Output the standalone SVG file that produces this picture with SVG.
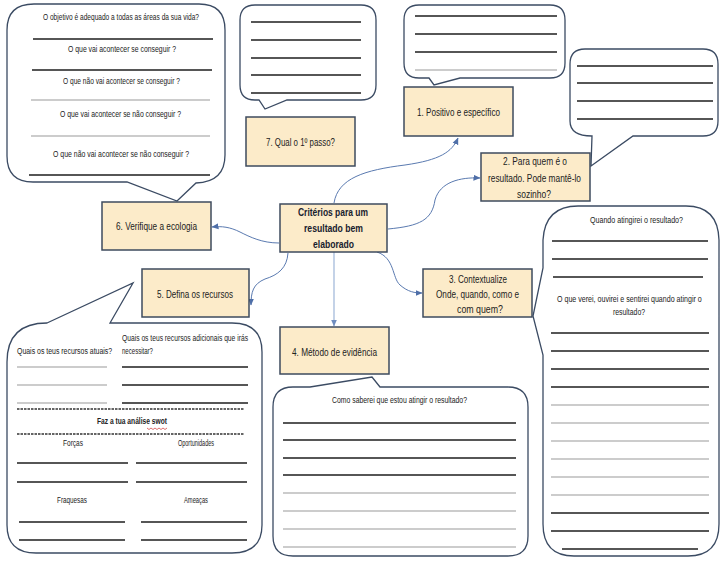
<svg xmlns="http://www.w3.org/2000/svg" width="724" height="564" viewBox="0 0 724 564">
<defs>
<marker id="arr" markerUnits="userSpaceOnUse" markerWidth="7" markerHeight="7" refX="6.5" refY="3.5" orient="auto">
<path d="M0,0.5 L7,3.5 L0,6.5 z" fill="#4F6FA8"/>
</marker>
<marker id="arrL" markerUnits="userSpaceOnUse" markerWidth="7" markerHeight="7" refX="6.5" refY="3.5" orient="auto">
<path d="M0,0.5 L7,3.5 L0,6.5 z" fill="#6F8DBF"/>
</marker>
</defs>
<style>
.box{fill:#FCEBC9;stroke:#3E4B5E;stroke-width:1.5}
.call{fill:#FFFFFF;stroke:#3B4B63;stroke-width:1.3}
.t{font-family:"Liberation Sans Narrow","Liberation Sans",Arial,sans-serif;font-size:9px;fill:#222}
.bt{font-family:"Liberation Sans Narrow","Liberation Sans",Arial,sans-serif;font-size:11px;fill:#222}
.ct{font-family:"Liberation Sans Narrow","Liberation Sans",Arial,sans-serif;font-size:11.5px;font-weight:bold;fill:#17202E}
.bl{stroke:#1E1E1E;stroke-width:1.3}
.gl{stroke:#9A9A9A;stroke-width:1.2}
.dl{stroke:#333;stroke-width:1.3;stroke-dasharray:2.5,1}
.con{fill:none;stroke:#5A7AB0;stroke-width:1;marker-end:url(#arr)}
</style>
<rect width="724" height="564" fill="#FFFFFF"/>

<!-- Callouts -->
<g id="callout-ecologia">
<path class="call" d="M34,4 H199 Q225,4 225,30 V155 Q225,182 196,183 L177,201 L127,182 H33 Q7,182 7,156 V30 Q7,4 34,4 Z"/>
<text class="t" x="43" y="20" textLength="156" lengthAdjust="spacingAndGlyphs">O objetivo é adequado a todas as áreas da sua vida?</text>
<line class="bl" x1="33" y1="39" x2="213" y2="39"/>
<text class="t" x="68" y="52" textLength="108" lengthAdjust="spacingAndGlyphs">O que vai acontecer se conseguir ?</text>
<line class="bl" x1="32" y1="70" x2="212" y2="70"/>
<text class="t" x="63" y="84" textLength="117" lengthAdjust="spacingAndGlyphs">O que não vai acontecer se conseguir ?</text>
<line class="gl" x1="31" y1="100" x2="210" y2="100"/>
<text class="t" x="60" y="117" textLength="121" lengthAdjust="spacingAndGlyphs">O que vai acontecer se não conseguir ?</text>
<line class="gl" x1="31" y1="136" x2="210" y2="136"/>
<text class="t" x="53" y="157" textLength="136" lengthAdjust="spacingAndGlyphs">O que não vai acontecer se não conseguir ?</text>
<line class="bl" x1="29" y1="175" x2="210" y2="175"/>
</g>

<g id="callout-passo">
<path class="call" d="M255,5 H361 Q376,5 376,20 V85 Q376,100 361,100 H287 L265,109 L259,100 H255 Q240,100 240,85 V20 Q240,5 255,5 Z"/>
<line class="bl" x1="251" y1="22" x2="361" y2="22"/>
<line class="bl" x1="251" y1="40" x2="361" y2="40"/>
<line class="bl" x1="251" y1="58" x2="361" y2="58"/>
<line class="bl" x1="251" y1="75" x2="361" y2="75"/>
<line class="bl" x1="251" y1="93" x2="361" y2="93"/>
</g>

<g id="callout-positivo">
<path class="call" d="M419,5 H550 Q565,5 565,20 V63 Q565,78 550,78 H460 L434,85 L429,78 H419 Q404,78 404,63 V20 Q404,5 419,5 Z"/>
<line class="bl" x1="415" y1="16" x2="557" y2="16"/>
<line class="bl" x1="415" y1="34" x2="557" y2="34"/>
<line class="bl" x1="415" y1="52" x2="557" y2="52"/>
<line class="gl" x1="415" y1="70" x2="557" y2="70"/>
</g>

<g id="callout-quem">
<path class="call" d="M585,49 H703 Q718,49 718,64 V121 Q718,136 703,136 H633 L591,166 L592,136 Q570,136 570,121 V64 Q570,49 585,49 Z"/>
<line class="bl" x1="577" y1="66" x2="713" y2="66"/>
<line class="bl" x1="577" y1="83" x2="713" y2="83"/>
<line class="bl" x1="577" y1="101" x2="713" y2="101"/>
<line class="bl" x1="577" y1="119" x2="713" y2="119"/>
</g>

<g id="callout-contexto">
<path class="call" d="M578,206 H686 Q718,206 719,240 V524 Q719,556 688,556 H574 Q543,556 543,524 V355 L533,316 L543,268 V240 Q545,206 578,206 Z"/>
<text class="t" x="590" y="223" textLength="93" lengthAdjust="spacingAndGlyphs">Quando atingirei o resultado?</text>
<line class="bl" x1="552" y1="241" x2="708" y2="241"/>
<line class="bl" x1="552" y1="259" x2="708" y2="259"/>
<line class="bl" x1="553" y1="277" x2="703" y2="277"/>
<text class="t" transform="translate(557,302) scale(0.75,1)" x="0" y="0" textLength="193" lengthAdjust="spacingAndGlyphs" font-size="8.5">O que verei, ouvirei e sentirei quando atingir o</text>
<text class="t" x="613" y="315" textLength="32" lengthAdjust="spacingAndGlyphs">resultado?</text>
<line class="bl" x1="551" y1="333" x2="709" y2="333"/>
<line class="bl" x1="551" y1="351" x2="709" y2="351"/>
<line class="bl" x1="551" y1="369" x2="709" y2="369"/>
<line class="bl" x1="551" y1="387" x2="709" y2="387"/>
<line class="gl" x1="551" y1="405" x2="709" y2="405"/>
<line class="gl" x1="551" y1="423" x2="709" y2="423"/>
<line class="gl" x1="551" y1="441" x2="709" y2="441"/>
<line class="gl" x1="551" y1="459" x2="709" y2="459"/>
<line class="gl" x1="551" y1="477" x2="709" y2="477"/>
<line class="gl" x1="551" y1="495" x2="709" y2="495"/>
<line class="bl" x1="551" y1="513" x2="709" y2="513"/>
<line class="bl" x1="551" y1="531" x2="709" y2="531"/>
<line class="bl" x1="562" y1="549" x2="698" y2="549"/>
</g>

<g id="callout-evidencia">
<path class="call" d="M293,387 H310 L372,377 L380,387 H508 Q528,387 528,407 V536 Q528,556 508,556 H293 Q273,556 273,536 V407 Q273,387 293,387 Z"/>
<text class="t" x="332" y="403" textLength="135" lengthAdjust="spacingAndGlyphs">Como saberei que estou atingir o resultado?</text>
<line class="bl" x1="283" y1="423" x2="516" y2="423"/>
<line class="bl" x1="283" y1="440" x2="516" y2="440"/>
<line class="bl" x1="283" y1="458" x2="516" y2="458"/>
<line class="bl" x1="283" y1="475" x2="516" y2="475"/>
<line class="gl" x1="283" y1="493" x2="516" y2="493"/>
<line class="gl" x1="283" y1="511" x2="516" y2="511"/>
<line class="gl" x1="283" y1="529" x2="516" y2="529"/>
<line class="gl" x1="283" y1="547" x2="516" y2="547"/>
</g>

<g id="callout-recursos">
<path class="call" d="M47,323 L133,283 L110,323 H232 Q262,323 262,352 V525 Q262,553 232,553 H36 Q7,553 7,525 V362 Q7,323 47,323 Z"/>
<text class="t" x="122" y="341" textLength="126" lengthAdjust="spacingAndGlyphs" font-size="8">Quais os teus recursos adicionais que irás</text>
<text class="t" transform="translate(17,354) scale(0.78,1)" x="0" y="0" textLength="122" lengthAdjust="spacingAndGlyphs" font-size="8">Quais os teus recursos atuais?</text>
<text class="t" x="122" y="354" textLength="31" lengthAdjust="spacingAndGlyphs" font-size="8">necessitar?</text>
<line class="gl" x1="17" y1="367" x2="107" y2="367"/>
<line class="gl" x1="17" y1="385" x2="107" y2="385"/>
<line class="gl" x1="17" y1="403" x2="107" y2="403"/>
<line class="bl" x1="122" y1="367" x2="248" y2="367"/>
<line class="bl" x1="122" y1="385" x2="248" y2="385"/>
<line class="bl" x1="122" y1="403" x2="248" y2="403"/>
<line class="dl" x1="17" y1="409" x2="244" y2="409"/>
<text class="t" x="97" y="424" textLength="70" lengthAdjust="spacingAndGlyphs" font-weight="bold">Faz a tua análise swot</text>
<polyline points="147,428 149,429.5 151,428 153,429.5 155,428 157,429.5 159,428 161,429.5 163,428 165,429.5 167,428" fill="none" stroke="#D03030" stroke-width="0.7"/>
<line class="dl" x1="17" y1="434" x2="244" y2="434"/>
<text class="t" x="63" y="446" textLength="20" lengthAdjust="spacingAndGlyphs">Forças</text>
<text class="t" x="178" y="446" textLength="36" lengthAdjust="spacingAndGlyphs">Oportunidades</text>
<line class="bl" x1="17" y1="463" x2="128" y2="463"/>
<line class="bl" x1="136" y1="463" x2="247" y2="463"/>
<line class="bl" x1="17" y1="482" x2="128" y2="482"/>
<line class="bl" x1="136" y1="482" x2="247" y2="482"/>
<text class="t" x="57" y="503" textLength="30" lengthAdjust="spacingAndGlyphs">Fraquesas</text>
<text class="t" x="184" y="503" textLength="24" lengthAdjust="spacingAndGlyphs">Ameaças</text>
<line class="bl" x1="19" y1="522" x2="125" y2="522"/>
<line class="bl" x1="141" y1="522" x2="247" y2="522"/>
<line class="bl" x1="19" y1="540" x2="125" y2="540"/>
<line class="bl" x1="141" y1="540" x2="247" y2="540"/>
</g>

<!-- Connectors -->
<g id="connectors">
<path class="con" d="M334,203 C338,178 365,170 405,165 C440,160 452,152 458,138"/>
<path class="con" d="M388,229 C420,226 432,220 435,200 C440,182 460,177 480,178"/>
<path class="con" d="M377,252 C395,258 392,278 400,285 C408,292 415,293 422,293"/>
<path d="M334,252 V326" fill="none" stroke="#9DB5D8" stroke-width="1.2" marker-end="url(#arrL)"/>
<path class="con" d="M288,253 C287,268 278,275 265,279 C253,284 251,292 251,305"/>
<path class="con" d="M279,243 C262,243 250,237 240,232 C230,227 222,226 212,227"/>
</g>

<!-- Nodes -->
<g id="node-central">
<rect class="box" x="280" y="204" width="107" height="48"/>
<text class="ct" x="298" y="216" textLength="70" lengthAdjust="spacingAndGlyphs">Critérios para um</text>
<text class="ct" x="304" y="232" textLength="59" lengthAdjust="spacingAndGlyphs">resultado bem</text>
<text class="ct" x="313" y="248" textLength="41" lengthAdjust="spacingAndGlyphs">elaborado</text>
</g>
<g id="node-1">
<rect class="box" x="404" y="87" width="109" height="49"/>
<text class="bt" x="417" y="116" textLength="83" lengthAdjust="spacingAndGlyphs">1. Positivo e específico</text>
</g>
<g id="node-2">
<rect class="box" x="481" y="153" width="109" height="48"/>
<text class="bt" x="503" y="165" textLength="64" lengthAdjust="spacingAndGlyphs">2. Para quem é o</text>
<text class="bt" x="488" y="182" textLength="93" lengthAdjust="spacingAndGlyphs">resultado. Pode mantê-lo</text>
<text class="bt" x="517" y="198" textLength="34" lengthAdjust="spacingAndGlyphs">sozinho?</text>
</g>
<g id="node-3">
<rect class="box" x="423" y="269" width="109" height="48"/>
<text class="bt" x="449" y="283" textLength="58" lengthAdjust="spacingAndGlyphs">3. Contextualize</text>
<text class="bt" x="436" y="298" textLength="83" lengthAdjust="spacingAndGlyphs">Onde, quando, como e</text>
<text class="bt" x="457" y="313" textLength="46" lengthAdjust="spacingAndGlyphs">com quem?</text>
</g>
<g id="node-4">
<rect class="box" x="280" y="327" width="109" height="47"/>
<text class="bt" x="292" y="356" textLength="85" lengthAdjust="spacingAndGlyphs">4. Método de evidência</text>
</g>
<g id="node-5">
<rect class="box" x="142" y="269" width="107" height="48"/>
<text class="bt" x="157" y="298" textLength="76" lengthAdjust="spacingAndGlyphs">5. Defina os recursos</text>
</g>
<g id="node-6">
<rect class="box" x="102" y="202" width="109" height="48"/>
<text class="bt" x="116" y="230" textLength="81" lengthAdjust="spacingAndGlyphs">6. Verifique a ecologia</text>
</g>
<g id="node-7">
<rect class="box" x="246" y="117" width="109" height="49"/>
<text class="bt" x="266" y="146" textLength="69" lengthAdjust="spacingAndGlyphs">7. Qual o 1º passo?</text>
</g>
</svg>
